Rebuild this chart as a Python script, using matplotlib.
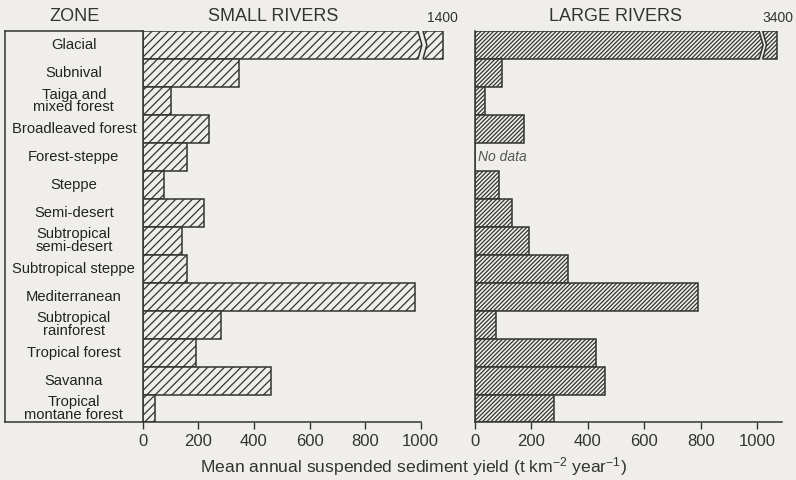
#!/usr/bin/env python3
"""Mean annual suspended sediment yield by climatic zone, small vs large rivers."""

import matplotlib
matplotlib.use("Agg")
import matplotlib.pyplot as plt  # noqa: E402
from matplotlib.patches import Polygon  # noqa: E402

zones = [
    "Glacial", "Subnival", "Taiga and\nmixed forest", "Broadleaved forest",
    "Forest-steppe", "Steppe", "Semi-desert", "Subtropical\nsemi-desert",
    "Subtropical steppe", "Mediterranean", "Subtropical\nrainforest",
    "Tropical forest", "Savanna", "Tropical\nmontane forest",
]
small_rivers = [1400, 345, 100, 240, 160, 75, 220, 140, 160, 980, 280, 190, 460, 45]
large_rivers = [3400, 95, 35, 175, None, 85, 130, 190, 330, 790, 75, 430, 460, 280]
x_ticks = [0, 200, 400, 600, 800, 1000]

BG = "#efeeea"
INK = "#333333"

plt.rcParams["font.family"] = ["Liberation Sans", "DejaVu Sans"]
plt.rcParams["mathtext.default"] = "regular"
plt.rcParams["hatch.linewidth"] = 0.9
plt.rcParams["hatch.color"] = INK

fig = plt.figure(figsize=(7.96, 4.8), dpi=100, facecolor=BG)

ax_zone = fig.add_axes([0.0063, 0.1198, 0.1730, 0.8156])
ax_small = fig.add_axes([0.1793, 0.1198, 0.3842, 0.8156])
ax_large = fig.add_axes([0.5967, 0.1198, 0.3904, 0.8156])

rows = list(range(len(zones)))

# zone label box
ax_zone.set_facecolor(BG)
ax_zone.set_xlim(0, 1)
ax_zone.set_ylim(len(zones) - 0.5, -0.5)
for side in ["left", "top", "bottom"]:
    ax_zone.spines[side].set_color(INK)
    ax_zone.spines[side].set_linewidth(1.1)
ax_zone.spines["right"].set_visible(False)
ax_zone.set_xticks([])
ax_zone.set_yticks([])
for i, z in enumerate(zones):
    ax_zone.text(0.5, i, z, ha="center", va="center", fontsize=10.6,
                 color="#222222", linespacing=0.88)


def draw_panel(ax, values, hatch, cap, brk, gap, label_dx):
    ax.set_facecolor(BG)
    ax.set_xlim(0, 1100)
    ax.set_ylim(len(zones) - 0.5, -0.5)
    shown = [min(v, cap) if v is not None else 0 for v in values]
    ax.barh(rows, shown, height=1.0, color=BG, edgecolor=INK,
            linewidth=1.1, hatch=hatch, zorder=2)

    # broken bars for values off the scale
    for i, v in enumerate(values):
        if v is None or v <= cap:
            continue
        d = 14
        pts = [(brk, i - 0.53), (brk + d, i), (brk, i + 0.53),
               (brk + gap, i + 0.53), (brk + gap + d, i), (brk + gap, i - 0.53)]
        ax.add_patch(Polygon(pts, closed=True, facecolor=BG, edgecolor="none", zorder=3))
        for x0 in (brk, brk + gap):
            ax.plot([x0, x0 + d, x0], [i - 0.5, i, i + 0.5], color=INK,
                    lw=1.1, zorder=4, solid_capstyle="butt")
        ax.annotate(f"{v}", (cap + label_dx, i - 0.5), xytext=(0, 4),
                    textcoords="offset points", ha="center", va="bottom",
                    fontsize=10, color=INK)

    for side in ["top", "right"]:
        ax.spines[side].set_visible(False)
    for side in ["left", "bottom"]:
        ax.spines[side].set_color(INK)
        ax.spines[side].set_linewidth(1.1)
    ax.set_yticks([])
    ax.set_xticks(x_ticks)
    ax.tick_params(axis="x", direction="out", length=5, width=1.0, color=INK,
                   labelcolor=INK, labelsize=12, pad=3)


draw_panel(ax_small, small_rivers, "////", 1080, 990, 18, -2)
ax_small.spines["bottom"].set_bounds(0, 1000)

draw_panel(ax_large, large_rivers, "////////", 1068, 1006, 12, 4)
ax_large.spines["bottom"].set_bounds(0, 1087)

for i, v in enumerate(large_rivers):
    if v is None:
        ax_large.text(10, i, "No data", ha="left", va="center", fontsize=10,
                      style="italic", color="#555555")

fig.text(0.093, 0.9646, "ZONE", ha="center", va="center", fontsize=13, color=INK)
fig.text(0.3436, 0.9646, "SMALL RIVERS", ha="center", va="center", fontsize=13, color=INK)
fig.text(0.7732, 0.9646, "LARGE RIVERS", ha="center", va="center", fontsize=13, color=INK)
fig.text(0.52, 0.027,
         "Mean annual suspended sediment yield (t km$^{-2}$ year$^{-1}$)",
         ha="center", va="center", fontsize=12.6, color=INK)

fig.savefig("out.png", dpi=100, facecolor=BG)
